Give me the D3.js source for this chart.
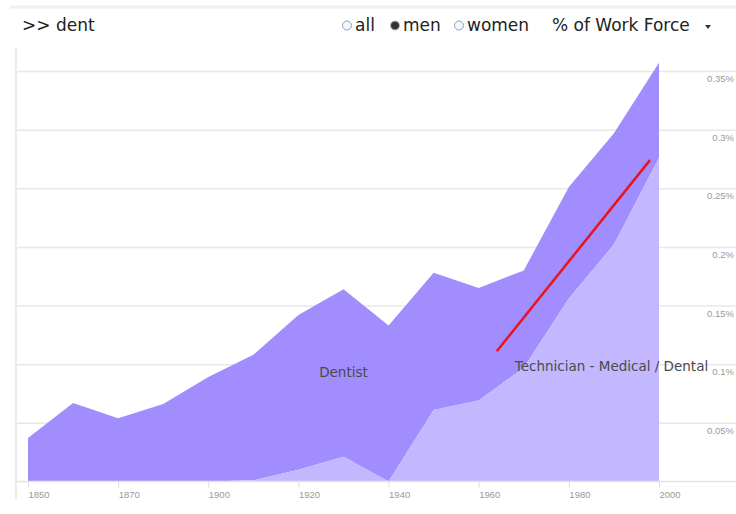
<!DOCTYPE html>
<html>
<head>
<meta charset="utf-8">
<script src="https://cdn.jsdelivr.net/npm/d3@7"></script>
<style>
  body { margin: 0; background: #fff; }
  svg { display: block; font-family: "DejaVu Sans", Verdana, sans-serif; }
</style>
</head>
<body>
<svg id="drawing_region"></svg>
<script>
// census years (no 1890 data), plotted evenly by index
const years = [1850, 1860, 1870, 1880, 1900, 1910, 1920, 1930, 1940, 1950, 1960, 1970, 1980, 1990, 2000];
// % of work force, men
const dentist    = [0.037, 0.067, 0.054, 0.066, 0.089, 0.107, 0.132, 0.143, 0.133, 0.117, 0.096, 0.083, 0.095, 0.095, 0.081];
const technician = [0, 0, 0, 0, 0, 0.001, 0.010, 0.021, 0, 0.061, 0.069, 0.097, 0.156, 0.202, 0.276];
const yTicks = [0.05, 0.1, 0.15, 0.2, 0.25, 0.3, 0.35];
const xTickIdx = [0, 2, 4, 6, 8, 10, 12, 14];
// red trend stroke, in (year index, value)
const trend = [{ i: 10.4, v: 0.111 }, { i: 13.8, v: 0.274 }];
const labels = [
    { name: 'Dentist', i: 7, v: 0.089, anchor: 'middle' },
    { name: 'Technician - Medical / Dental', i: 10.8, v: 0.094, anchor: 'start' }
];

const config = {
    width: 736,
    height: 514,
    left: 28, right: 659,
    top: 71, bottom: 481.5
};

const svg = d3.select('#drawing_region')
    .attr('width', config.width)
    .attr('height', config.height);

const table = years.map((y, i) => ({ year: y, i: i, tech: technician[i], dentist: dentist[i] }));

const xscale = d3.scaleLinear()
    .domain([0, years.length - 1])
    .range([config.left, config.right]);

const yscale = d3.scaleLinear()
    .domain([0, 0.35])
    .range([config.bottom, config.top]);

// frame
svg.append('line')
    .attr('x1', 10).attr('x2', config.width)
    .attr('y1', 7).attr('y2', 7)
    .attr('stroke', '#efefef').attr('stroke-width', 3);
svg.append('line')
    .attr('x1', 16).attr('x2', 16)
    .attr('y1', 48).attr('y2', 499)
    .attr('stroke', '#e6e6e6').attr('stroke-width', 1.5);

// grid + y labels
const ygroup = svg.append('g')
    .attr('transform', 'translate(17,0)')
    .call(d3.axisRight(yscale)
        .tickValues(yTicks)
        .tickSize(config.width - 17)
        .tickFormat(d => `${+d.toFixed(2)}%`));
ygroup.select('.domain').remove();
ygroup.selectAll('.tick line')
    .attr('stroke', '#e8e8e8').attr('stroke-width', 1.5);
ygroup.selectAll('.tick text')
    .attr('x', 717)
    .attr('dy', '1.1em')
    .attr('text-anchor', 'end')
    .attr('fill', '#999')
    .style('font-size', '9.5px');

// stacked areas
const stack = d3.stack().keys(['tech', 'dentist']);
const series = stack(table);
const colors = { tech: '#c3b7ff', dentist: '#a28dff' };

const area = d3.area()
    .x(d => xscale(d.data.i))
    .y0(d => yscale(d[0]))
    .y1(d => yscale(d[1]));

svg.append('g')
    .selectAll('path')
    .data(series.slice().reverse())
    .join('path')
    .attr('fill', d => colors[d.key])
    .attr('d', area);

// baseline + x axis
svg.append('line')
    .attr('x1', 16).attr('x2', config.width)
    .attr('y1', config.bottom).attr('y2', config.bottom)
    .attr('stroke', '#e4e4e4').attr('stroke-width', 1.5);

const xgroup = svg.append('g')
    .attr('transform', `translate(0, ${config.bottom})`)
    .call(d3.axisBottom(xscale)
        .tickValues(xTickIdx)
        .tickSize(6)
        .tickFormat(i => years[i]));
xgroup.select('.domain').remove();
xgroup.selectAll('.tick line').attr('stroke', '#ddd');
xgroup.selectAll('.tick text')
    .attr('text-anchor', 'start')
    .attr('y', 10)
    .attr('fill', '#999')
    .style('font-size', '9.5px');

// series labels
svg.append('g')
    .selectAll('text')
    .data(labels)
    .join('text')
    .attr('x', d => xscale(d.i))
    .attr('y', d => yscale(d.v))
    .attr('text-anchor', d => d.anchor)
    .attr('fill', '#4a4a4a')
    .style('font-size', '13.5px')
    .text(d => d.name);

// red stroke
svg.append('path')
    .datum(trend)
    .attr('fill', 'none')
    .attr('stroke', '#e8141e')
    .attr('stroke-width', 2.5)
    .attr('d', d3.line().x(d => xscale(d.i)).y(d => yscale(d.v)));

// header
const head = svg.append('g').style('font-size', '17px').attr('fill', '#222');
head.append('text').attr('x', 22).attr('y', 31).text('>> dent');

const radios = [
    { label: 'all', cx: 347, on: false },
    { label: 'men', cx: 395, on: true },
    { label: 'women', cx: 459, on: false }
];
const rg = head.selectAll('g.radio')
    .data(radios)
    .join('g')
    .attr('class', 'radio');
rg.append('circle')
    .attr('cx', d => d.cx).attr('cy', 25.5).attr('r', 4.5)
    .attr('fill', d => d.on ? '#333' : '#f4f8fc')
    .attr('stroke', d => d.on ? '#bbb' : '#8aa4c0')
    .attr('stroke-width', 1);
rg.append('text')
    .attr('x', d => d.cx + 8)
    .attr('y', 31)
    .text(d => d.label);

head.append('text').attr('x', 552).attr('y', 31).text('% of Work Force');
head.append('path')
    .attr('d', 'M705,25 L711,25 L708,29 Z')
    .attr('fill', '#333');
</script>
</body>
</html>
